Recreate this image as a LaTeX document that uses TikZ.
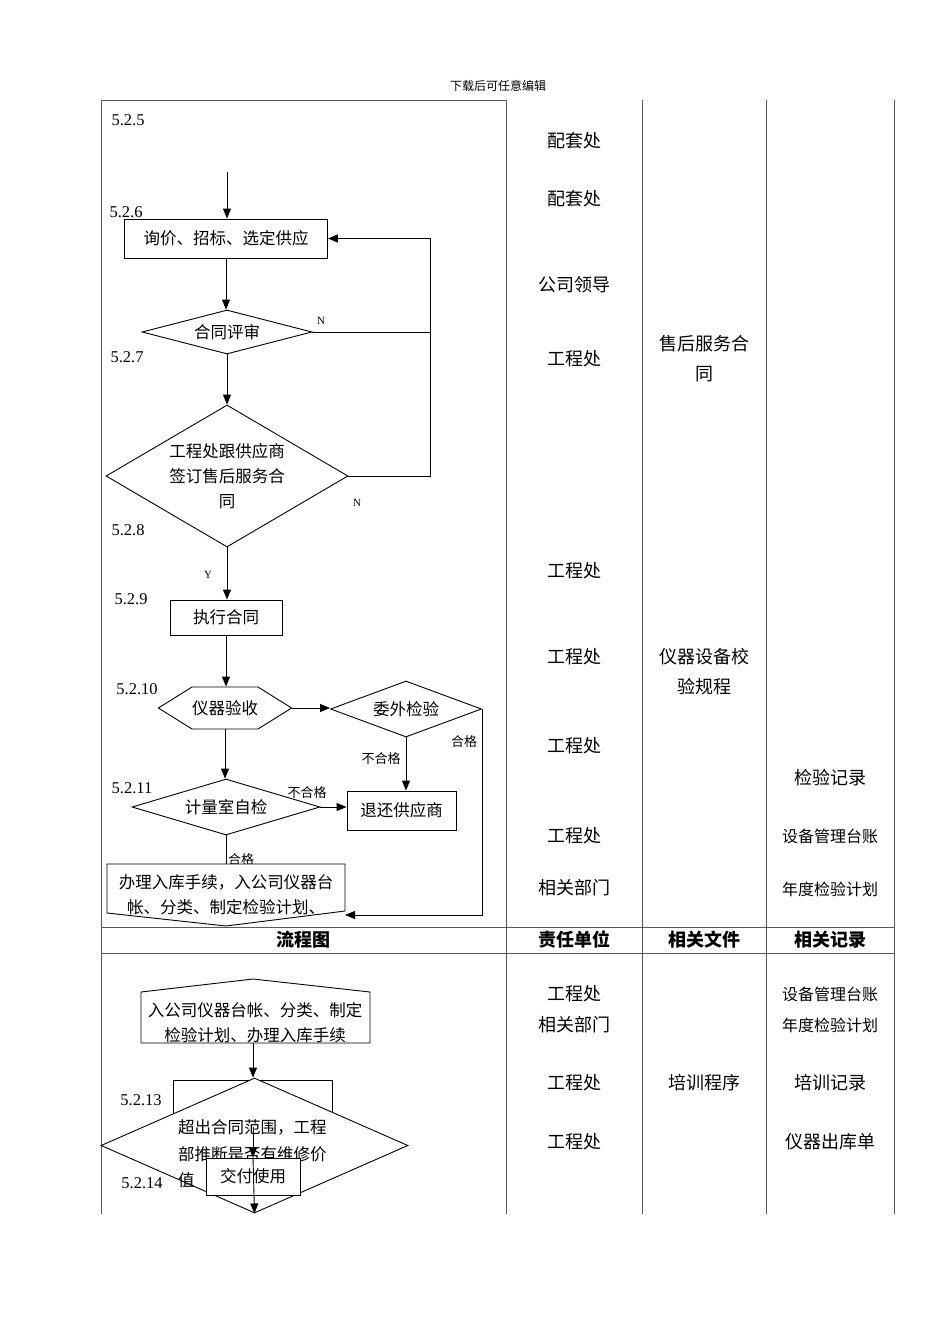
\documentclass[tikz,border=0pt]{standalone}
\usepackage{fontspec}
\setmainfont{Liberation Serif}
\newfontfamily\zh{Noto Sans CJK SC}
\usetikzlibrary{arrows.meta,shapes.geometric,shapes.symbols}

\tikzset{
  grid/.style={draw=black!65,line width=0.8pt},
  zhtext/.style={font=\zh\fontsize{16.5}{25}\selectfont,inner sep=0pt},
  procbox/.style={zhtext,draw,fill=white,line width=0.9pt},
  decision/.style={zhtext,diamond,draw,fill=white,line width=0.9pt},
  hexbox/.style={zhtext,signal,signal to=west and east,signal pointer angle=64,
    draw,fill=white,line width=0.9pt,minimum width=132pt,minimum height=42pt},
  flow/.style={draw,line width=0.9pt,-{Triangle[length=10pt,width=8pt]}},
  link/.style={draw,line width=0.9pt},
  tag/.style={font=\fontsize{11}{11}\selectfont,inner sep=0pt},
  zhtag/.style={font=\zh\fontsize{13}{13}\selectfont,inner sep=0pt},
  stepno/.style={font=\fontsize{16.5}{16.5}\selectfont,inner sep=0pt},
  cell/.style={font=\zh\fontsize{18}{30}\selectfont,inner sep=0pt,align=center},
  cellsmall/.style={font=\zh\fontsize{16}{16}\selectfont,inner sep=0pt},
  headcell/.style={font=\zh\bfseries\fontsize{18}{18}\selectfont,inner sep=0pt}
}

\begin{document}
\begin{tikzpicture}[x=1pt,y=-1pt]
\useasboundingbox (0,0) rectangle (950,1344);

% table
\node[font=\zh\fontsize{12}{12}\selectfont,inner sep=0pt] (note) at (498,86) {下载后可任意编辑};
\draw[grid] (101,100) -- (506,100);
\foreach \x in {101,506,642,766,894}
  \draw[grid] (\x,100) -- (\x,1214);
\draw[grid] (101,927) -- (894,927);
\draw[grid] (101,953) -- (894,953);
\node[headcell] (h1) at (303,940) {流程图};
\node[headcell] (h2) at (574,940) {责任单位};
\node[headcell] (h3) at (704,940) {相关文件};
\node[headcell] (h4) at (830,940) {相关记录};

% responsible units, files, records
\foreach \y/\txt in {141/配套处,199/配套处,285/公司领导,359/工程处,571/工程处,
    657/工程处,746/工程处,836/工程处,888/相关部门,994/工程处,1025/相关部门,
    1083/工程处,1142/工程处}
  \node[cell] at (574,\y) {\txt};
\node[cell] (doc1) at (704,359) {售后服务合\\同};
\node[cell] (doc2) at (704,672) {仪器设备校\\验规程};
\node[cell] (doc3) at (704,1083) {培训程序};
\node[cell] (rec1) at (830,778) {检验记录};
\node[cellsmall] (rec2) at (830,836) {设备管理台账};
\node[cellsmall] (rec3) at (830,889) {年度检验计划};
\node[cellsmall] (rec4) at (830,994) {设备管理台账};
\node[cellsmall] (rec5) at (830,1025) {年度检验计划};
\node[cell] (rec6) at (830,1083) {培训记录};
\node[cell] (rec7) at (830,1142) {仪器出库单};

% step numbers
\foreach \x/\y/\num in {128/120/5.2.5,126/212/5.2.6,127/357/5.2.7,128/530/5.2.8,
    131/599/5.2.9,137/689/5.2.10,132/788/5.2.11,141/1100/5.2.13,142/1183/5.2.14}
  \node[stepno] at (\x,\y) {\num};

% flow chart, upper part
\coordinate (start) at (227,172);
\node[procbox,minimum width=203pt,minimum height=39pt] (quote) at (226,238.5) {询价、招标、选定供应};
\node[decision,aspect=3.86,minimum width=170pt,minimum height=44pt] (review) at (227,332) {合同评审};
\node[decision,aspect=1.7,minimum width=242pt,minimum height=142pt,align=center] (sign) at (227,476)
  {工程处跟供应商\\签订售后服务合\\同};
\node[procbox,minimum width=112pt,minimum height=35pt] (exec) at (226,617.5) {执行合同};
\node[hexbox] (accept) at (225,708) {仪器验收};
\node[decision,aspect=2.7,minimum width=151pt,minimum height=56pt] (outside) at (406,709) {委外检验};
\node[procbox,minimum width=109pt,minimum height=39pt] (ret) at (401.5,810.5) {退还供应商};
\node[decision,aspect=3.36,minimum width=188pt,minimum height=56pt] (selfchk) at (226,807) {计量室自检};
\coordinate (back) at (430,476);

\draw[flow] (start) -- (start |- quote.north);
\draw[flow] (quote.south) -- (quote.south |- review.north);
\draw[flow] (review) -- (sign);
\draw[flow] (sign.south) -- (sign.south |- exec.north);
\draw[flow] (sign.east) -- (back) |- (quote.east);
\draw[link] (review.east) -- (review.east -| back);
\draw[flow] (exec.south) -- (exec.south |- accept.north);
\draw[flow] (accept.east) -- (accept.east -| outside.west);
\draw[flow] (outside.south) -- (outside.south |- ret.north);
\draw[flow] (accept.south) -- (accept.south |- selfchk.north);
\draw[flow] (selfchk.east) -- (selfchk.east -| ret.west);

\node[tag] (n1) at (321,321) {N};
\node[tag] (n2) at (357,503) {N};
\node[tag] (y1) at (208,575) {Y};
\node[zhtag] (ok1) at (464,742) {合格};
\node[zhtag] (bad1) at (381,759) {不合格};
\node[zhtag] (bad2) at (307,793) {不合格};
\node[zhtag] (ok2) at (241,860) {合格};

% storage step, pointed bottom
\coordinate (storetop) at (226,864);
\coordinate (storeright) at (345,915);
\draw[link] (selfchk) -- (storetop);
\draw[flow] (outside.east) |- (storeright);
\filldraw[fill=white,line width=0.9pt] (107,864) -- (345,864) -- (345,911) -- (226,926)
  -- (107,913) -- cycle;
\node[zhtext,align=center] (store) at (226,894.5) {办理入库手续，入公司仪器台\\帐、分类、制定检验计划、};

% flow chart, lower part
\filldraw[fill=white,line width=0.9pt] (141,992) -- (253,979) -- (370,992) -- (370,1043)
  -- (141,1043) -- cycle;
\node[zhtext,align=center] (ledger) at (255,1023) {入公司仪器台帐、分类、制定\\检验计划、办理入库手续};
\coordinate (ledgerbot) at (253,1043);
\node[procbox,minimum width=159pt,minimum height=60pt] (train) at (252.5,1110) {};
\node[decision,minimum width=307pt,minimum height=135pt] (judge) at (254.5,1145.5) {};
\node[zhtext,align=left,anchor=west,font=\zh\fontsize{16.5}{26.5}\selectfont] (judgetxt) at (178,1154)
  {超出合同范围，工程\\部推断是否有维修价\\值};
\draw[flow] (ledgerbot) -- (ledgerbot |- judge.north);
\coordinate (mid) at (253,1127);
\node[procbox,minimum width=94pt,minimum height=37pt] (deliver) at (253,1176.5) {交付使用};
\draw[flow] (mid) -- (deliver);
\draw[flow] (deliver.north) -- (judge.south);
\end{tikzpicture}
\end{document}
